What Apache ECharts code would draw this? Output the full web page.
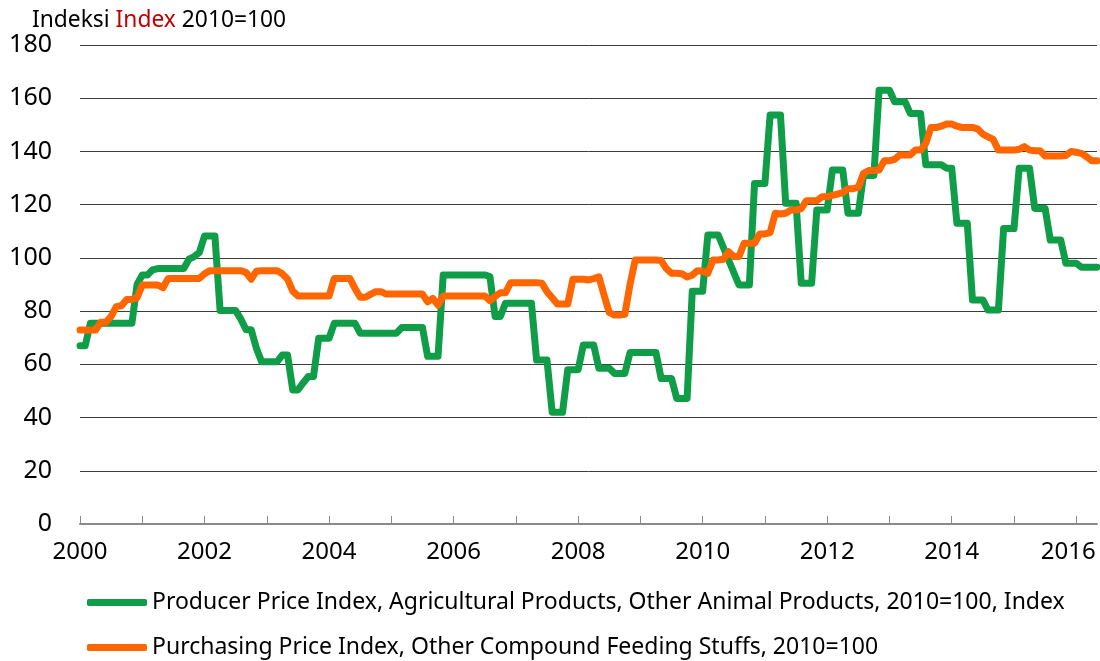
<!DOCTYPE html>
<html lang="en">
<head>
  <meta charset="UTF-8">
  <title>Price indices 2000-2016</title>
  <script src="https://cdn.jsdelivr.net/npm/echarts@6/dist/echarts.min.js"></script>
  <style type="text/css">
    html, body { margin: 0; padding: 0; background: #fff; }
    #main { width: 1100px; height: 661px; }
  </style>
</head>
<body>
<div id="main"></div>
<script type="text/javascript">
  // monthly series, Jan 2000 .. May 2016
  var years = [2000, 2001, 2002, 2003, 2004, 2005, 2006, 2007, 2008,
               2009, 2010, 2011, 2012, 2013, 2014, 2015, 2016];
  var monthsInLastYear = 5;

  var producerName = 'Producer Price Index, Agricultural Products, Other Animal Products, 2010=100, Index';
  var purchasingName = 'Purchasing Price Index, Other Compound Feeding Stuffs, 2010=100';

  var producer = [
    67, 67, 75.4, 75.4, 75.4, 75.4, 75.4, 75.4, 75.4, 75.4, 75.4, 90,               // 2000
    93.6, 93.6, 95.5, 96, 96, 96, 96, 96, 96, 99.5, 100.5, 102,                     // 2001
    108.2, 108.2, 108.2, 80.2, 80.2, 80.2, 80.2, 77, 73, 73, 66, 61,                // 2002
    61, 61, 61, 63.5, 63.5, 50.4, 50.4, 53, 55.4, 55.4, 69.8, 69.8,                 // 2003
    69.8, 75.4, 75.4, 75.4, 75.4, 75.4, 71.7, 71.7, 71.7, 71.7, 71.7, 71.7,         // 2004
    71.7, 71.7, 73.8, 73.8, 73.8, 73.8, 73.8, 63, 63, 63, 93.6, 93.6,               // 2005
    93.6, 93.6, 93.6, 93.6, 93.6, 93.6, 93.6, 93, 78, 78, 83, 83,                   // 2006
    83, 83, 83, 83, 61.6, 61.6, 61.6, 42, 42, 42, 58, 58,                           // 2007
    58, 67.3, 67.3, 67.3, 58.5, 58.5, 58.5, 56.6, 56.6, 56.6, 64.4, 64.4,           // 2008
    64.4, 64.4, 64.4, 64.4, 54.7, 54.7, 54.7, 47.2, 47.2, 47.2, 87.5, 87.5,         // 2009
    87.5, 108.6, 108.6, 108.6, 103.9, 99.2, 94.5, 89.8, 89.8, 89.8, 128, 128,       // 2010
    128, 153.7, 153.7, 153.7, 120.5, 120.5, 120.5, 90.5, 90.5, 90.5, 118, 118,      // 2011
    118, 133, 133, 133, 116.8, 116.8, 116.8, 131, 131, 131, 163, 163,               // 2012
    163, 158.7, 158.7, 158.7, 154.3, 154.3, 154.3, 135, 135, 135, 135, 133.7,       // 2013
    133.7, 113, 113, 113, 84.2, 84.2, 84.2, 80.4, 80.4, 80.4, 111, 111,             // 2014
    111, 133.7, 133.7, 133.7, 118.6, 118.6, 118.6, 106.7, 106.7, 106.7, 98, 98,     // 2015
    98, 96.5, 96.5, 96.5, 96.5                                                      // 2016
  ];

  var purchasing = [
    72.9, 72.9, 72.9, 72.9, 75.8, 75.8, 78, 81.7, 82, 84.4, 84.4, 85,               // 2000
    89.8, 89.8, 89.8, 89.8, 88.8, 92.3, 92.3, 92.3, 92.3, 92.3, 92.3, 92.3,         // 2001
    94, 95.2, 95.2, 95.2, 95.2, 95.2, 95.2, 95.2, 94.5, 92, 95, 95.2,               // 2002
    95.2, 95.2, 95.2, 94, 92, 87.5, 85.7, 85.7, 85.7, 85.7, 85.7, 85.7,             // 2003
    85.7, 92.3, 92.3, 92.3, 92.3, 88.5, 85.2, 85.2, 86.3, 87.3, 87.3, 86.4,         // 2004
    86.4, 86.4, 86.4, 86.4, 86.4, 86.4, 86.4, 83.5, 84.8, 82.3, 85.7, 85.7,         // 2005
    85.7, 85.7, 85.7, 85.7, 85.7, 85.7, 85.7, 83.9, 85.5, 86.9, 86.9, 90.7,         // 2006
    90.7, 90.7, 90.7, 90.7, 90.7, 90.5, 87.3, 85, 82.7, 82.7, 82.7, 92,             // 2007
    92, 92, 91.7, 92.2, 92.9, 86, 79.5, 78.5, 78.5, 78.8, 90, 99.2,                 // 2008
    99.2, 99.2, 99.2, 99.2, 99, 96, 94.2, 94.2, 94, 92.8, 93.5, 95.2,               // 2009
    95, 94.2, 99.2, 99.2, 99.5, 102.3, 100.5, 100.5, 105.5, 105.5, 105.5, 109,      // 2010
    109, 109.5, 116.8, 116.5, 116.8, 118, 118, 118.5, 121.5, 121.5, 121.5, 123,     // 2011
    123, 123.5, 124, 124.5, 126, 126, 126.5, 131.8, 132.8, 132.8, 133, 136.5,       // 2012
    136.5, 137, 138.7, 138.7, 138.7, 140.5, 140.5, 143, 149, 149, 149.5, 150.3,     // 2013
    150.3, 149.5, 149, 149, 149, 148.5, 146.5, 145.5, 144.5, 140.5, 140.5, 140.5,   // 2014
    140.5, 140.8, 141.8, 140.5, 140.3, 140.3, 138.3, 138.3, 138.3, 138.3, 138.5, 140, // 2015
    139.7, 139.3, 138, 136.5, 136.5                                                 // 2016
  ];

  var months = [];
  years.forEach(function (y, i) {
    var n = (i === years.length - 1) ? monthsInLastYear : 12;
    for (var m = 1; m <= n; m++) {
      months.push(y + '-' + (m < 10 ? '0' + m : m));
    }
  });
  var lastYear = String(years[years.length - 1]);

  var font = '"Noto Sans", sans-serif';
  var myChart = echarts.init(document.getElementById('main'));

  // one legend per row, Excel style
  function legendRow(name, top) {
    return {
      data: [name],
      left: 82,
      top: top,
      icon: 'roundRect',
      itemWidth: 60,
      itemHeight: 7,
      textStyle: { fontSize: 23, color: '#000', fontFamily: font }
    };
  }

  var option = {
    animation: false,
    backgroundColor: '#fff',
    title: {
      text: '{a|Indeksi }{b|Index}{a| 2010=100}',
      left: 27,
      top: 4,
      textStyle: {
        fontWeight: 'normal',
        rich: {
          a: { fontSize: 22.8, color: '#000', fontFamily: font, fontWeight: 'normal' },
          b: { fontSize: 22.8, color: '#c00000', fontFamily: font, fontWeight: 'normal' }
        }
      }
    },
    grid: { left: 80, right: 3, top: 45, bottom: 137, outerBoundsMode: 'none' },
    legend: [
      legendRow(producerName, 586),
      legendRow(purchasingName, 631)
    ],
    xAxis: {
      type: 'category',
      data: months,
      boundaryGap: false,
      axisLine: { lineStyle: { color: '#8a8a8a', width: 2 } },
      axisTick: { inside: true, length: 8, interval: 11, lineStyle: { color: '#8a8a8a', width: 1 } },
      axisLabel: {
        interval: 23,
        margin: 16,
        fontSize: 24,
        color: '#000',
        fontFamily: font,
        formatter: function (v) {
          var y = v.slice(0, 4);
          // last label is pulled in a little so it stays on the canvas
          return y === lastYear ? '{e|' + y + '}' : y;
        },
        rich: {
          e: { fontSize: 24, color: '#000', fontFamily: font, padding: [0, 16, 0, 0] }
        }
      },
      splitLine: { show: false }
    },
    yAxis: {
      type: 'value',
      min: 0,
      max: 180,
      interval: 20,
      axisLine: { show: false },
      axisTick: { show: false },
      axisLabel: { fontSize: 25, color: '#000', fontFamily: font, margin: 28 },
      splitLine: { lineStyle: { color: '#3c3c3c', width: 1 } }
    },
    series: [
      {
        name: producerName,
        type: 'line',
        data: producer,
        symbol: 'none',
        itemStyle: { color: '#0f9d48' },
        lineStyle: { color: '#0f9d48', width: 7, cap: 'round', join: 'round' }
      },
      {
        name: purchasingName,
        type: 'line',
        data: purchasing,
        symbol: 'none',
        itemStyle: { color: '#ff6600' },
        lineStyle: { color: '#ff6600', width: 7, cap: 'round', join: 'round' }
      }
    ]
  };

  myChart.setOption(option);
</script>
</body>
</html>
